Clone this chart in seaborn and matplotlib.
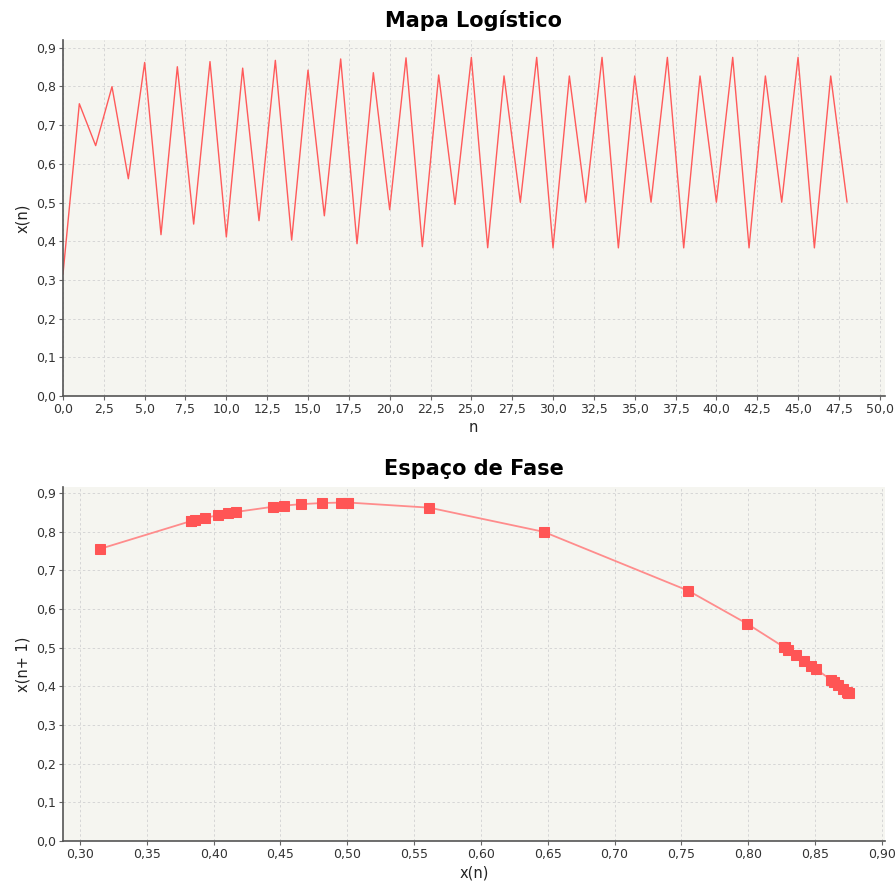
import matplotlib
matplotlib.use("Agg")
import matplotlib.pyplot as plt
from matplotlib.ticker import FuncFormatter, MultipleLocator
import seaborn as sns
import pandas as pd

# Logistic map iterates x(n), n = 0..48
x_values = [
    0.315, 0.7552, 0.6470, 0.7993, 0.5614, 0.8618, 0.4169, 0.8508, 0.4443, 0.8641,
    0.4109, 0.8472, 0.4530, 0.8673, 0.4029, 0.8420, 0.4657, 0.8709, 0.3936, 0.8354,
    0.4814, 0.8738, 0.3860, 0.8295, 0.4950, 0.8749, 0.3831, 0.8271, 0.5005, 0.8750,
    0.3828, 0.8269, 0.5009, 0.8750, 0.3828, 0.8269, 0.5009, 0.8750, 0.3828, 0.8269,
    0.5009, 0.8750, 0.3828, 0.8269, 0.5009, 0.8750, 0.3828, 0.8269, 0.5009,
]
n_values = list(range(len(x_values)))

series = pd.DataFrame({"n": n_values, "x": x_values})
phase = pd.DataFrame({"xn": x_values[:-1], "xn1": x_values[1:]})

sns.set_theme(style="white")
plt.rcParams["font.family"] = ["DejaVu Sans"]

BG = "#F5F5F0"
LINE = "#FF5A5A"
GRID = "#D6D6D6"

fig = plt.figure(figsize=(8.96, 8.84), dpi=100)
ax1 = fig.add_axes([0.0703, 0.552, 0.917, 0.4028])
ax2 = fig.add_axes([0.0703, 0.0486, 0.917, 0.4004])

comma = lambda fmt: FuncFormatter(lambda v, p: (fmt % v).replace(".", ","))

sns.lineplot(data=series, x="n", y="x", ax=ax1, color=LINE, linewidth=1.0)
sns.lineplot(data=phase, x="xn", y="xn1", ax=ax2, color="#FF8C8C", linewidth=1.3,
             marker="s", markersize=6.8, markerfacecolor="#FF5555",
             markeredgecolor="#FF5555", sort=True)

ax1.set_xlim(0, 50.3)
ax1.set_ylim(0, 0.92)
ax1.xaxis.set_major_locator(MultipleLocator(2.5))
ax1.yaxis.set_major_locator(MultipleLocator(0.1))
ax1.xaxis.set_major_formatter(comma("%.1f"))
ax1.yaxis.set_major_formatter(comma("%.1f"))
ax1.set_xlabel("n", fontsize=10.5, labelpad=3, color="#222222")
ax1.set_ylabel("x(n)", fontsize=10.5, labelpad=4, color="#222222")
ax1.set_title("Mapa Logístico", fontsize=15, fontweight="bold", pad=9, color="black")

ax2.set_xlim(0.2873, 0.902)
ax2.set_ylim(0, 0.915)
ax2.xaxis.set_major_locator(MultipleLocator(0.05))
ax2.yaxis.set_major_locator(MultipleLocator(0.1))
ax2.xaxis.set_major_formatter(comma("%.2f"))
ax2.yaxis.set_major_formatter(comma("%.1f"))
ax2.set_xlabel("x(n)", fontsize=10.5, labelpad=3, color="#222222")
ax2.set_ylabel("x(n+ 1)", fontsize=10.5, labelpad=4, color="#222222")
ax2.set_title("Espaço de Fase", fontsize=15, fontweight="bold", pad=9, color="black")

for ax in (ax1, ax2):
    ax.set_facecolor(BG)
    ax.grid(True, color=GRID, linestyle=(0, (2.5, 2.5)), linewidth=0.7)
    ax.set_axisbelow(True)
    for side in ("top", "right"):
        ax.spines[side].set_visible(False)
    for side in ("left", "bottom"):
        ax.spines[side].set_color("#555555")
        ax.spines[side].set_linewidth(1.2)
    ax.tick_params(axis="both", which="major", direction="out", length=3,
                   width=0.8, color="#666666", labelsize=9, pad=2,
                   left=True, bottom=True, labelcolor="#333333")

fig.savefig("out.png", dpi=100, facecolor="white")
